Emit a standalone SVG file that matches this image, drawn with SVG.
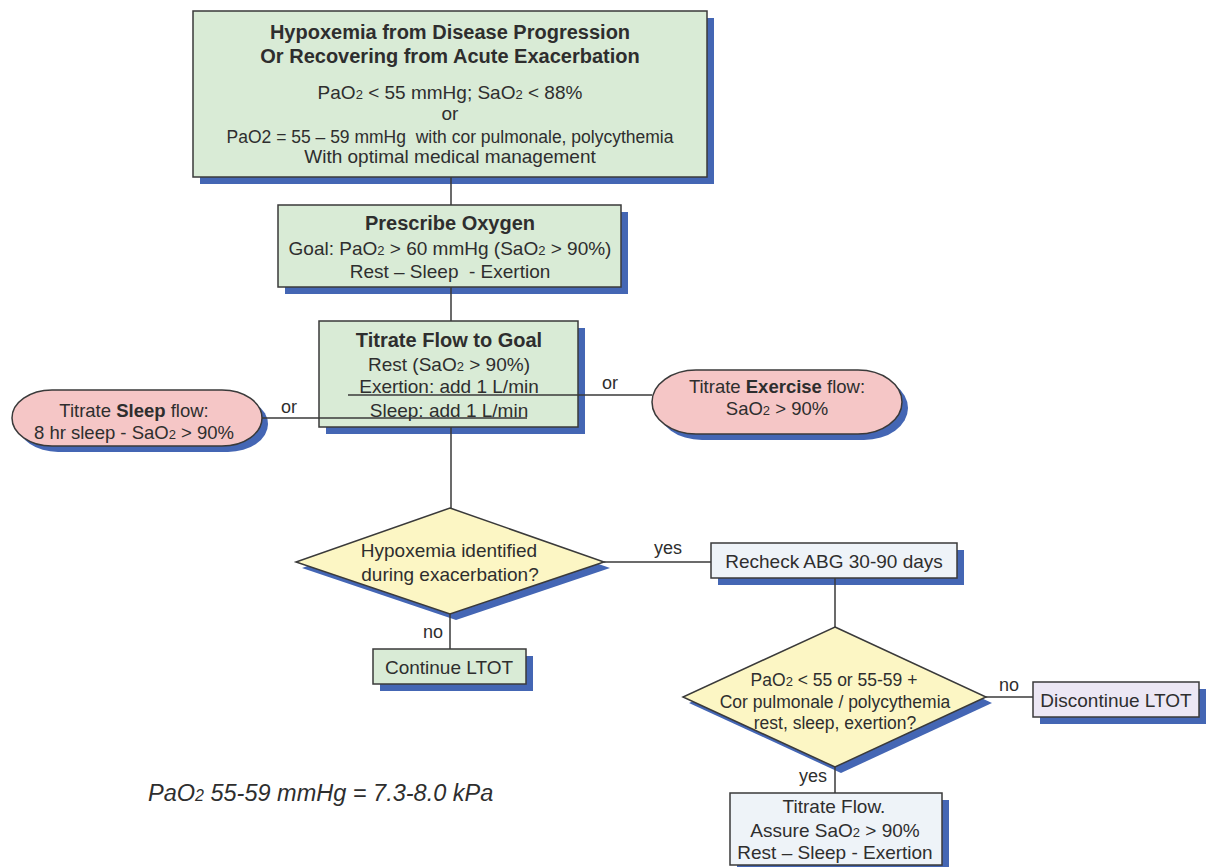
<svg xmlns="http://www.w3.org/2000/svg" width="1208" height="867" viewBox="0 0 1208 867">
<style>
text { font-family: "Liberation Sans", Arial, sans-serif; fill: #2e2e2e; font-size: 19px; text-anchor: middle; white-space: pre; }
.b { font-weight: bold; font-size: 20px; }
.s { font-size: 13px; }
.lbl { font-size: 18px; }
.edge { stroke: #3a3a3a; stroke-width: 1.5; }
.sh { fill: #4466b4; }
.green { fill: #d9ebd6; }
.yellow { fill: #fcf6c4; }
.pink { fill: #f5c6c6; }
.blue { fill: #eef3f8; }
.lav { fill: #ece7f4; }
.conn { stroke: #3a3a3a; stroke-width: 1.5; fill: none; }
</style>
<rect width="1208" height="867" fill="#ffffff"/>

<g id="n-hypoxemia">
  <rect class="sh" x="200" y="18" width="514" height="166"/>
  <rect class="green edge" x="193" y="11" width="514" height="166"/>
  <text class="b" x="450" y="39">Hypoxemia from Disease Progression</text>
  <text class="b" x="450" y="63">Or Recovering from Acute Exacerbation</text>
  <text x="450" y="99">PaO<tspan class="s">2</tspan> &lt; 55 mmHg; SaO<tspan class="s">2</tspan> &lt; 88%</text>
  <text x="450" y="120">or</text>
  <text x="450" y="143" xml:space="preserve" style="font-size:17.5px">PaO2 = 55 – 59 mmHg  with cor pulmonale, polycythemia</text>
  <text x="450" y="163">With optimal medical management</text>
</g>

<g id="n-prescribe">
  <rect class="sh" x="285" y="212" width="343" height="82"/>
  <rect class="green edge" x="278" y="205" width="343" height="82"/>
  <text class="b" x="450" y="230">Prescribe Oxygen</text>
  <text x="450" y="255">Goal: PaO<tspan class="s">2</tspan> &gt; 60 mmHg (SaO<tspan class="s">2</tspan> &gt; 90%)</text>
  <text x="450" y="278" xml:space="preserve">Rest – Sleep  - Exertion</text>
</g>

<g id="n-titrate-goal">
  <rect class="sh" x="326" y="328" width="259" height="106"/>
  <rect class="green edge" x="319" y="321" width="259" height="106"/>
  <text class="b" x="449" y="347">Titrate Flow to Goal</text>
  <text x="449" y="371">Rest (SaO<tspan class="s">2</tspan> &gt; 90%)</text>
  <text x="449" y="393">Exertion: add 1 L/min</text>
  <text x="449" y="417">Sleep: add 1 L/min</text>
</g>

<g id="n-sleep">
  <rect class="sh" x="18" y="396" width="250" height="56" rx="40" ry="28"/>
  <rect class="pink edge" x="12" y="390" width="250" height="56" rx="40" ry="28"/>
  <text x="134" y="417" style="font-size:18.5px">Titrate <tspan style="font-weight:bold">Sleep</tspan> flow:</text>
  <text x="134" y="439" style="font-size:18.5px">8 hr sleep - SaO<tspan class="s">2</tspan> &gt; 90%</text>
</g>

<g id="n-exercise">
  <rect class="sh" x="658" y="376" width="250" height="64" rx="44" ry="32"/>
  <rect class="pink edge" x="652" y="370" width="250" height="64" rx="44" ry="32"/>
  <text x="777" y="393" style="font-size:18.5px">Titrate <tspan style="font-weight:bold">Exercise</tspan> flow:</text>
  <text x="777" y="415" style="font-size:18.5px">SaO<tspan class="s">2</tspan> &gt; 90%</text>
</g>

<g id="n-decision1">
  <polygon class="sh" points="456,514 610,568 456,620 302,568"/>
  <polygon class="yellow edge" points="450,508 604,562 450,614 296,562"/>
  <text x="449" y="557">Hypoxemia identified</text>
  <text x="450" y="581">during exacerbation?</text>
</g>

<g id="n-continue">
  <rect class="sh" x="380" y="656" width="153" height="35"/>
  <rect class="green edge" x="373" y="649" width="153" height="35"/>
  <text x="449" y="674">Continue LTOT</text>
</g>

<g id="n-recheck">
  <rect class="sh" x="718" y="550" width="246" height="35"/>
  <rect class="blue edge" x="711" y="543" width="246" height="35"/>
  <text x="834" y="568">Recheck ABG 30-90 days</text>
</g>

<g id="n-decision2">
  <polygon class="sh" points="841,633 992,703 841,773 689,703"/>
  <polygon class="yellow edge" points="835,627 986,697 835,767 683,697"/>
  <text x="834" y="686" style="font-size:17.5px">PaO<tspan class="s">2</tspan> &lt; 55 or 55-59 +</text>
  <text x="835" y="708" style="font-size:17.5px">Cor pulmonale / polycythemia</text>
  <text x="835" y="729" style="font-size:17.5px">rest, sleep, exertion?</text>
</g>

<g id="n-discontinue">
  <rect class="sh" x="1040" y="689" width="166" height="35"/>
  <rect class="lav edge" x="1033" y="682" width="166" height="35"/>
  <text x="1116" y="707">Discontinue LTOT</text>
</g>

<g id="n-titrate-flow">
  <rect class="sh" x="737" y="800" width="212" height="72"/>
  <rect class="blue edge" x="730" y="793" width="212" height="72"/>
  <text x="834" y="813">Titrate Flow.</text>
  <text x="835" y="837">Assure SaO<tspan class="s">2</tspan> &gt; 90%</text>
  <text x="835" y="859">Rest – Sleep - Exertion</text>
</g>

<g id="connectors">
  <line class="conn" x1="451" y1="177" x2="451" y2="205"/>
  <line class="conn" x1="451" y1="287" x2="451" y2="321"/>
  <line class="conn" x1="451" y1="427" x2="451" y2="508"/>
  <line class="conn" x1="348" y1="395" x2="652" y2="395"/>
  <line class="conn" x1="262" y1="418" x2="527" y2="418"/>
  <line class="conn" x1="604" y1="562" x2="711" y2="562"/>
  <line class="conn" x1="450" y1="614" x2="450" y2="649"/>
  <line class="conn" x1="835" y1="578" x2="835" y2="627"/>
  <line class="conn" x1="986" y1="697" x2="1033" y2="697"/>
  <line class="conn" x1="835" y1="767" x2="835" y2="793"/>
  <text class="lbl" x="610" y="389">or</text>
  <text class="lbl" x="289" y="413">or</text>
  <text class="lbl" x="668" y="554">yes</text>
  <text class="lbl" x="433" y="638">no</text>
  <text class="lbl" x="1009" y="691">no</text>
  <text class="lbl" x="813" y="782">yes</text>
</g>

<text x="148" y="801" style="font-size:23.5px;font-style:italic;text-anchor:start">PaO<tspan style="font-size:16px">2</tspan> 55-59 mmHg = 7.3-8.0 kPa</text>
</svg>
